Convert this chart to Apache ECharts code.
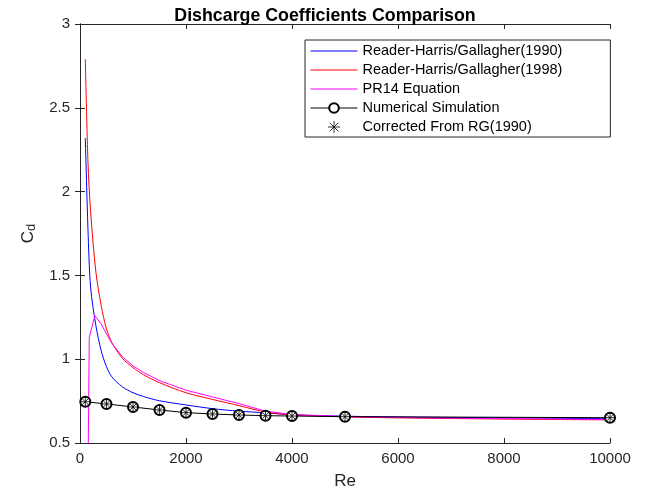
<!DOCTYPE html>
<html>
<head>
<meta charset="utf-8">
<script src="https://cdn.jsdelivr.net/npm/echarts@6/dist/echarts.min.js"></script>
<style>
  html, body { margin: 0; padding: 0; background: #fff; }
  #main { width: 655px; height: 497px; }
</style>
</head>
<body>
<div id="main"></div>
<script>
// Re grid used for the two Reader-Harris/Gallagher curves
var reCurve = [100, 150, 200, 300, 400, 500, 600, 800, 1000, 1200, 1500, 2000, 2500, 3000, 3500, 4000, 5000, 6000, 8000, 10000];
var rhg1990 = [2.32, 1.78, 1.43, 1.20, 1.05, 0.955, 0.895, 0.835, 0.80, 0.777, 0.752, 0.727, 0.705, 0.69, 0.68, 0.668, 0.66, 0.655, 0.65, 0.645];
var rhg1998 = [2.79, 2.18, 1.88, 1.52, 1.32, 1.18, 1.10, 1.005, 0.95, 0.907, 0.86, 0.80, 0.76, 0.723, 0.685, 0.668, 0.656, 0.65, 0.643, 0.638];

// PR14 has its own sampling (drops below the axis at low Re)
var rePR14 = [100, 175, 280, 400, 500, 600, 800, 1000, 1200, 1500, 2000, 2500, 3000, 3500, 4000, 5000, 6000, 8000, 10000];
var pr14 = [-1.4, 1.13, 1.26, 1.21, 1.15, 1.095, 1.015, 0.96, 0.92, 0.872, 0.815, 0.775, 0.735, 0.69, 0.67, 0.658, 0.652, 0.645, 0.64];

// numerical simulation points and the corrected RG(1990) values
var reSim = [100, 500, 1000, 1500, 2000, 2500, 3000, 3500, 4000, 5000, 10000];
var simCd = [0.746, 0.733, 0.715, 0.697, 0.681, 0.673, 0.667, 0.663, 0.661, 0.657, 0.651];
var corrCd = [0.746, 0.733, 0.715, 0.697, 0.681, 0.673, 0.667, 0.663, 0.661, 0.657, 0.651];

var xTicks = { min: 0, max: 10000, interval: 2000 };
var yTicks = { min: 0.5, max: 3, interval: 0.5 };

function pairs(xs, ys) {
    return xs.map(function (x, i) { return [x, ys[i]]; });
}

var axisColor = '#262626';
var fontFam = '"Liberation Sans", Arial, sans-serif';
var star = 'path://M0,-1L0,1M-1,0L1,0M-0.7,-0.7L0.7,0.7M-0.7,0.7L0.7,-0.7';

var mychart = echarts.init(document.getElementById('main'));

var baseX = {
    type: 'value',
    min: xTicks.min, max: xTicks.max, interval: xTicks.interval,
    axisLine: { show: true, lineStyle: { color: axisColor, width: 1 } },
    axisTick: { show: true, inside: true, length: 5, lineStyle: { color: axisColor } },
    splitLine: { show: false }
};
var baseY = {
    type: 'value',
    min: yTicks.min, max: yTicks.max, interval: yTicks.interval,
    axisLine: { show: true, lineStyle: { color: axisColor, width: 1 } },
    axisTick: { show: true, inside: true, length: 5, lineStyle: { color: axisColor } },
    splitLine: { show: false }
};

var noMarker = { opacity: 0 };

var option = {
    animation: false,
    backgroundColor: '#fff',
    title: {
        text: 'Dishcarge Coefficients Comparison',
        left: 320, top: 2, textAlign: 'center',
        textStyle: { fontFamily: fontFam, fontSize: 17.8, fontWeight: 'bold', color: '#000' }
    },
    grid: { left: 80, right: 45, top: 24, bottom: 54 },
    legend: {
        orient: 'vertical',
        left: 305, top: 40,
        itemWidth: 47, itemHeight: 12, itemGap: 3,
        padding: [3, 48, 2, 5],
        borderColor: axisColor, borderWidth: 1, backgroundColor: '#fff', borderRadius: 0,
        itemStyle: { borderWidth: 1 },
        lineStyle: { width: 1 },
        textStyle: { fontFamily: fontFam, fontSize: 14.5, lineHeight: 16, color: '#000' },
        data: [
            { name: 'Reader-Harris/Gallagher(1990)', itemStyle: noMarker },
            { name: 'Reader-Harris/Gallagher(1998)', itemStyle: noMarker },
            { name: 'PR14 Equation', itemStyle: noMarker },
            { name: 'Numerical Simulation' },
            { name: 'Corrected From RG(1990)' }
        ]
    },
    xAxis: [
        Object.assign({}, baseX, {
            name: 'Re', nameLocation: 'middle', nameGap: 30,
            nameTextStyle: { fontFamily: fontFam, fontSize: 17, color: '#262626' },
            axisLabel: { fontFamily: fontFam, fontSize: 15, color: '#262626', margin: 8, formatter: function (v) { return String(v); } }
        }),
        Object.assign({}, baseX, { position: 'top', axisLabel: { show: false } })
    ],
    yAxis: [
        Object.assign({}, baseY, {
            name: 'C{sub|d}', nameLocation: 'middle', nameGap: 40,
            nameTextStyle: {
                fontFamily: fontFam, fontSize: 17, color: '#262626',
                rich: { sub: { fontFamily: fontFam, fontSize: 13, color: '#262626', verticalAlign: 'bottom', padding: [7, 0, 0, 0] } }
            },
            axisLabel: { fontFamily: fontFam, fontSize: 15, color: '#262626', margin: 10 }
        }),
        Object.assign({}, baseY, { position: 'right', axisLabel: { show: false } })
    ],
    series: [
        {
            name: 'Reader-Harris/Gallagher(1990)', type: 'line', showSymbol: false, symbol: 'none',
            data: pairs(reCurve, rhg1990), smooth: 0.3,
            lineStyle: { color: '#0000ff', width: 1 }, itemStyle: { color: '#0000ff' }
        },
        {
            name: 'Reader-Harris/Gallagher(1998)', type: 'line', showSymbol: false, symbol: 'none',
            data: pairs(reCurve, rhg1998), smooth: 0.3,
            lineStyle: { color: '#ff0000', width: 1 }, itemStyle: { color: '#ff0000' }
        },
        {
            name: 'PR14 Equation', type: 'line', showSymbol: false, symbol: 'none',
            data: pairs(rePR14, pr14),
            lineStyle: { color: '#ff00ff', width: 1 }, itemStyle: { color: '#ff00ff' }
        },
        {
            name: 'Numerical Simulation', type: 'line', symbol: 'emptyCircle', symbolSize: 10,
            data: pairs(reSim, simCd), z: 3,
            lineStyle: { color: '#000', width: 1 }, itemStyle: { color: '#000', borderWidth: 1 }
        },
        {
            name: 'Corrected From RG(1990)', type: 'scatter', symbol: star, symbolSize: 9,
            data: pairs(reSim, corrCd), z: 10,
            itemStyle: { color: 'rgba(0,0,0,0)', borderColor: '#000', borderWidth: 1 }
        }
    ]
};
mychart.setOption(option);
</script>
</body>
</html>
